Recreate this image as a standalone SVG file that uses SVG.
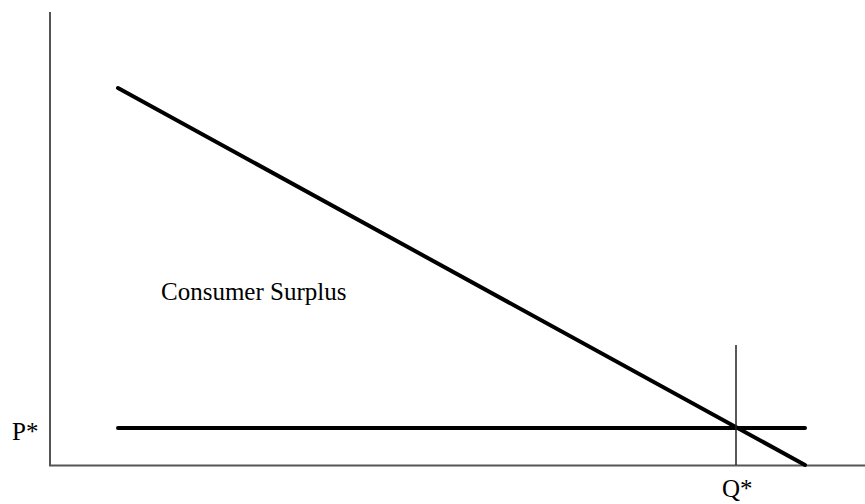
<svg xmlns="http://www.w3.org/2000/svg" width="865" height="504" viewBox="0 0 865 504">
<style>
.lbl{font-family:"Liberation Serif","Times New Roman",serif;font-size:25px;fill:#000}
.axis{stroke:#555;stroke-width:2;fill:none}
.curve{stroke:#000;stroke-width:4;stroke-linecap:round;fill:none}
.thin{stroke:#222;stroke-width:1.5;fill:none}
</style>
<rect width="865" height="504" fill="#fff"/>
<g id="axes">
<line class="axis" x1="50" y1="12" x2="50" y2="466"/>
<line class="axis" x1="49" y1="465.5" x2="865" y2="465.5"/>
</g>
<g id="connectors">
<line id="demand" class="curve" x1="118" y1="88" x2="805" y2="465"/>
<line id="price" class="curve" x1="118" y1="428" x2="805" y2="428"/>
<line id="qstar-line" class="thin" x1="736" y1="345" x2="736" y2="465"/>
</g>
<g id="label-cs"><text class="lbl" x="161" y="300">Consumer Surplus</text></g>
<g id="label-p"><text class="lbl" x="12" y="440">P*</text></g>
<g id="label-q"><text class="lbl" x="722" y="497">Q*</text></g>
</svg>
